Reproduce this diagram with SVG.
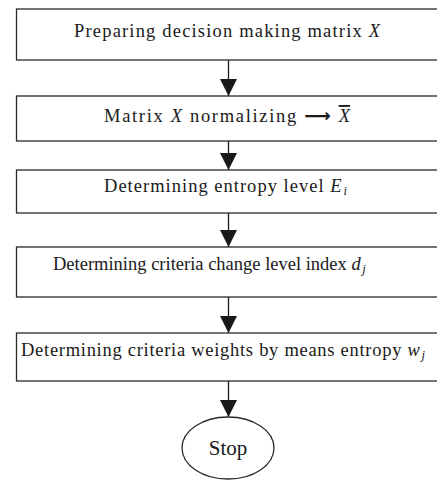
<svg xmlns="http://www.w3.org/2000/svg" width="437" height="481" viewBox="0 0 437 481">
<style>
.box{fill:#fff;stroke:#2a2a2a;stroke-width:1.3}
.i{font-style:italic}
.s{font-size:12.5px;font-style:italic}
.c{stroke:#1a1a1a;stroke-width:1.3;fill:none}
</style>
<defs>
<marker id="ah" viewBox="0 0 17 18" refX="17" refY="8.5" markerWidth="17" markerHeight="18" markerUnits="userSpaceOnUse" orient="auto">
<path d="M0,0 L17,8.5 L0,17 Z" fill="#1a1a1a"/>
</marker>
</defs>
<rect width="437" height="481" fill="#fff"/>
<g id="connectors">
<line class="c" x1="228.5" y1="60" x2="228.5" y2="96" marker-end="url(#ah)"/>
<line class="c" x1="228.5" y1="141" x2="228.5" y2="170" marker-end="url(#ah)"/>
<line class="c" x1="228.5" y1="213" x2="228.5" y2="247" marker-end="url(#ah)"/>
<line class="c" x1="228.5" y1="297" x2="228.5" y2="333" marker-end="url(#ah)"/>
<line class="c" x1="228.5" y1="381" x2="228.5" y2="417" marker-end="url(#ah)"/>
</g>
<g font-family="Liberation Serif, Times New Roman, serif" font-size="18.5" fill="#1a1a1a">
<g id="n1">
<rect class="box" x="16.5" y="9" width="430" height="51"/>
<text x="74" y="37" textLength="306" lengthAdjust="spacing">Preparing decision making matrix <tspan class="i">X</tspan></text>
</g>
<g id="n2">
<rect class="box" x="16.5" y="96" width="430" height="45"/>
<text x="104" y="122" textLength="246" lengthAdjust="spacing">Matrix <tspan class="i">X</tspan> normalizing <tspan font-family="DejaVu Sans" font-weight="bold">⟶</tspan> <tspan class="i" text-decoration="overline">X</tspan></text>
</g>
<g id="n3">
<rect class="box" x="16.5" y="170" width="430" height="43"/>
<text x="104" y="192" textLength="243" lengthAdjust="spacing">Determining entropy level <tspan class="i">E</tspan><tspan class="s" dx="1" dy="3">i</tspan></text>
</g>
<g id="n4">
<rect class="box" x="16.5" y="247" width="430" height="50"/>
<text x="53" y="270">Determining criteria change level index <tspan class="i">d</tspan><tspan class="s" dx="1.5" dy="3">j</tspan></text>
</g>
<g id="n5">
<rect class="box" x="16.5" y="333" width="430" height="48"/>
<text x="21" y="356" textLength="404" lengthAdjust="spacing">Determining criteria weights by means entropy <tspan class="i">w</tspan><tspan class="s" dx="1" dy="3">j</tspan></text>
</g>
<g id="stop">
<ellipse class="box" cx="228" cy="448" rx="46" ry="31"/>
<text x="228" y="455" text-anchor="middle" font-size="21">Stop</text>
</g>
</g>
</svg>
